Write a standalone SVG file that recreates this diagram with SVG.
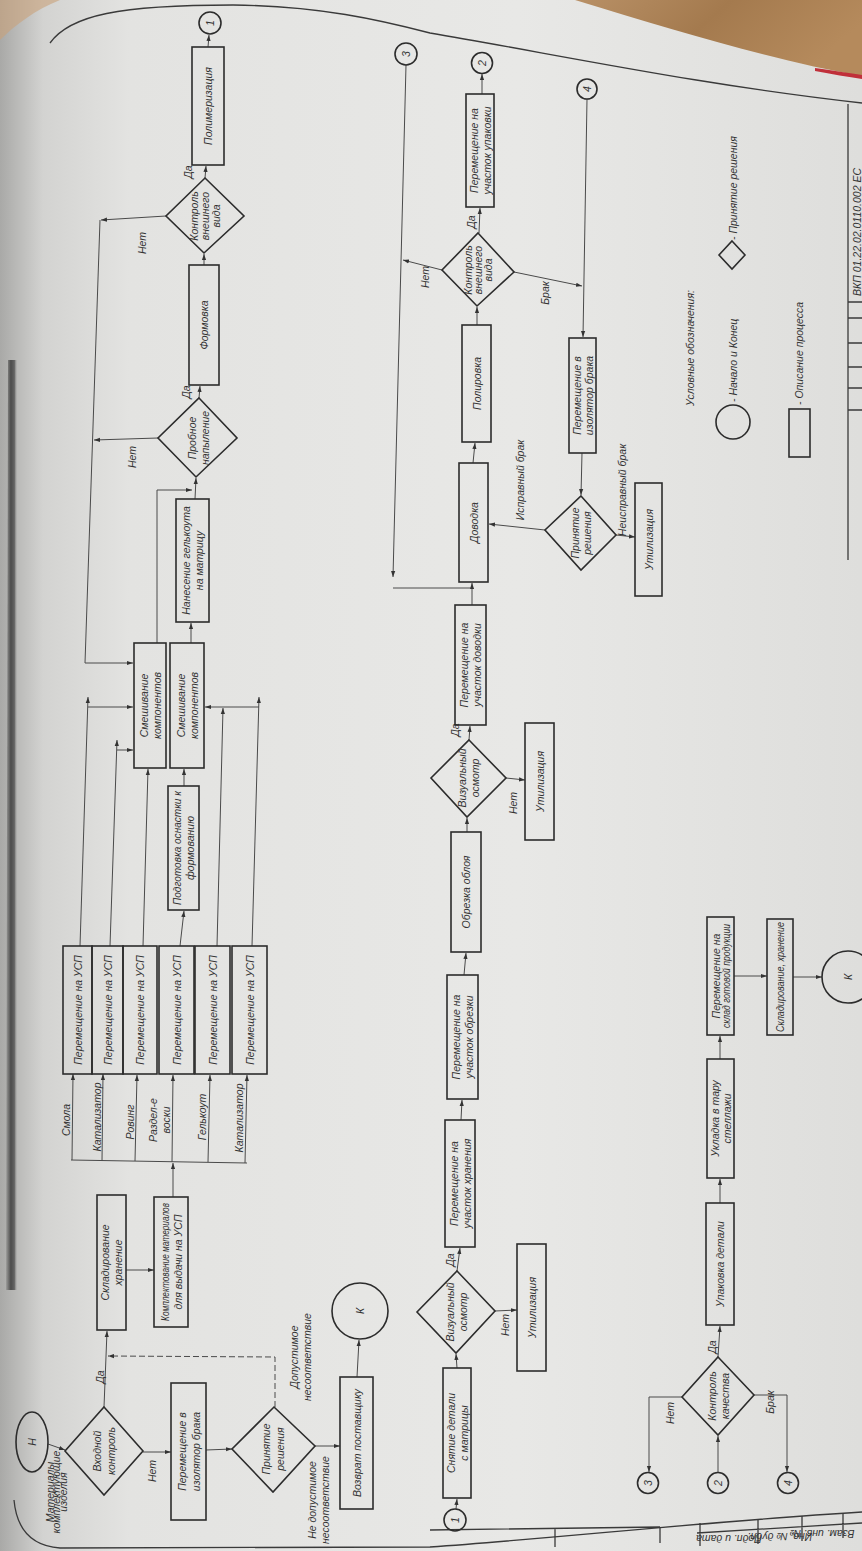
<svg xmlns="http://www.w3.org/2000/svg" width="862" height="1551" viewBox="0 0 862 1551">
<defs>
<linearGradient id="paper" x1="0" y1="0" x2="1" y2="0">
<stop offset="0" stop-color="#a9a9a7"/>
<stop offset="0.05" stop-color="#d3d3d1"/>
<stop offset="0.15" stop-color="#e3e3e1"/>
<stop offset="0.6" stop-color="#e8e8e6"/>
<stop offset="1" stop-color="#dededc"/>
</linearGradient>
<linearGradient id="bind" x1="0" y1="0" x2="1" y2="0">
<stop offset="0" stop-color="#9a9a98"/>
<stop offset="0.4" stop-color="#3a3a3a"/>
<stop offset="0.7" stop-color="#555"/>
<stop offset="1" stop-color="#c8c8c6" stop-opacity="0"/>
</linearGradient>
<linearGradient id="wood" x1="0" y1="0" x2="1" y2="0.3">
<stop offset="0" stop-color="#b89066"/>
<stop offset="0.5" stop-color="#a47a4e"/>
<stop offset="1" stop-color="#b58a5c"/>
</linearGradient>
<marker id="ah" viewBox="0 0 10 10" refX="10" refY="5" markerWidth="6" markerHeight="6" orient="auto" markerUnits="userSpaceOnUse">
<path d="M0,1.5 L10,5 L0,8.5 z" fill="#333"/>
</marker>
<style>
.bx{fill:none;stroke:#2c2c2c;stroke-width:1.6}
.ln{fill:none;stroke:#4a4a4a;stroke-width:1}
.ar{marker-end:url(#ah)}
.dash{stroke-dasharray:6 3}
.fr{fill:none;stroke:#3a3a3a;stroke-width:1.3}
.t{font-family:"Liberation Sans Narrow","Liberation Sans",Arial,sans-serif;font-style:italic;fill:#333;text-anchor:middle;dominant-baseline:central;font-size:10.5px}
.s{text-anchor:start}
</style>
</defs>

<!-- photo background -->
<rect x="0" y="0" width="862" height="1551" fill="url(#paper)"/>
<path d="M575,0 L862,0 L862,76 C780,62 680,32 575,0 Z" fill="url(#wood)"/>
<path d="M815,68 C835,71 850,73 862,75 L862,79 C848,77 832,74 815,71 Z" fill="#c0303a"/>
<path d="M0,0 L60,0 C35,10 15,25 0,40 Z" fill="#c9a27a" opacity="0.6"/>
<path d="M8,360 L18,360 L17,1290 L6,1290 Z" fill="url(#bind)" opacity="0.85"/>

<!-- sheet frame -->
<g id="frame">
<path class="fr" d="M50,43 C70,15 120,5 233,5 C320,6 380,20 430,33 C560,55 700,85 862,103"/>
<path class="fr" d="M14,1500 Q18,1545 60,1548 L430,1547 C560,1538 700,1522 862,1512"/>
<path class="fr" d="M430,1530 L660,1527 M555,1529 L555,1547 M660,1527 L660,1543 M697,1533 L862,1523 M700,1523 L700,1546 M758,1519 L758,1544 M802,1516 L802,1541 M843,1513 L843,1538"/>
<path class="fr" d="M848,104 L848,560 M848,302 L862,302 M848,318 L862,318 M848,343 L862,343 M848,367 L862,367 M848,388 L862,388 M848,410 L862,410"/>
<text class="t s" transform="translate(857,296) rotate(-90)" font-size="15">ВКП 01.22.02.0110.002 ЕС</text>
<text class="t" transform="translate(729,1539) rotate(180)" font-size="5">Подп. и дата</text>
<text class="t" transform="translate(780,1537) rotate(180)" font-size="5">Инв. № дубл.</text>
<text class="t" transform="translate(822,1534) rotate(180)" font-size="5">Взам. инв. №</text>
</g>

<!-- connectors -->
<g id="connectors">
<path class="ln ar" d="M48,1444 L65,1450"/>
<path class="ln ar" d="M104,1407 L107,1331"/>
<path class="ln ar" d="M143,1452 L171,1452"/>
<path class="ln ar" d="M206,1450 L232,1449"/>
<path class="ln ar dash" d="M275,1407 L275,1357 L108,1356"/>
<path class="ln ar" d="M315,1446 L340,1446"/>
<path class="ln ar" d="M357,1377 L359,1340"/>
<path class="ln ar" d="M126,1270 L154,1270"/>
<path class="ln ar" d="M173,1197 L173,1163"/>
<path class="ln" d="M71,1160 L247,1163"/>
<path class="ln ar" d="M72,1160 L73,1074"/>
<path class="ln ar" d="M102,1161 L103,1074"/>
<path class="ln ar" d="M135,1161 L137,1075"/>
<path class="ln ar" d="M172,1162 L173,1075"/>
<path class="ln ar" d="M208,1162 L210,1075"/>
<path class="ln ar" d="M245,1163 L247,1075"/>
<path class="ln ar" d="M80,946 L88,697"/>
<path class="ln ar" d="M88,707 L133,707"/>
<path class="ln ar" d="M110,946 L117,740"/>
<path class="ln ar" d="M117,750 L133,750"/>
<path class="ln ar" d="M143,946 L148,769"/>
<path class="ln ar" d="M180,946 L184,911"/>
<path class="ln ar" d="M184,786 L184,769"/>
<path class="ln ar" d="M217,946 L223,708"/>
<path class="ln ar" d="M259,707 L205,707"/>
<path class="ln ar" d="M252,946 L259,697"/>
<path class="ln ar" d="M157,643 L157,490 L192,490"/>
<path class="ln ar" d="M191,643 L191,623"/>
<path class="ln ar" d="M195,499 L196,478"/>
<path class="ln ar" d="M158,438 L94,440"/>
<path class="ln ar" d="M199,398 L200,386"/>
<path class="ln ar" d="M204,265 L204,254"/>
<path class="ln ar" d="M166,216 L101,220"/>
<path class="ln ar" d="M100,220 L85,663 L133,663"/>
<path class="ln ar" d="M205,178 L206,166"/>
<path class="ln ar" d="M208,47 L209,35"/>

<path class="ln ar" d="M456,1509 L457,1499"/>
<path class="ln ar" d="M457,1368 L456,1354"/>
<path class="ln ar" d="M457,1271 L460,1248"/>
<path class="ln ar" d="M495,1311 L517,1310"/>
<path class="ln ar" d="M461,1120 L462,1100"/>
<path class="ln ar" d="M464,975 L466,953"/>
<path class="ln ar" d="M467,832 L467,818"/>
<path class="ln ar" d="M469,740 L470,726"/>
<path class="ln ar" d="M506,778 L525,780"/>
<path class="ln ar" d="M472,605 L472,583"/>
<path class="ln ar" d="M473,463 L475,443"/>
<path class="ln ar" d="M477,325 L477,307"/>
<path class="ln ar" d="M479,233 L480,208"/>
<path class="ln ar" d="M482,94 L482,74"/>
<path class="ln ar" d="M442,270 L403,260"/>
<path class="ln ar" d="M406,65 L393,577"/>
<path class="ln" d="M393,588 L471,588"/>
<path class="ln ar" d="M514,272 L582,286"/>
<path class="ln ar" d="M587,99 L583,337"/>
<path class="ln ar" d="M582,453 L581,495"/>
<path class="ln ar" d="M545,530 L489,524"/>
<path class="ln ar" d="M616,535 L635,537"/>

<path class="ln ar" d="M718,1473 L718,1436"/>
<path class="ln ar" d="M682,1397 L649,1397 L649,1472"/>
<path class="ln ar" d="M754,1395 L787,1395 L787,1472"/>
<path class="ln ar" d="M718,1357 L720,1326"/>
<path class="ln ar" d="M720,1203 L720,1179"/>
<path class="ln ar" d="M720,1059 L720,1036"/>
<path class="ln ar" d="M734,976 L767,976"/>
<path class="ln ar" d="M793,977 L822,977"/>

<!-- connector labels -->
<text class="t" transform="translate(56,1492) rotate(-90)" font-size="5"><tspan x="0" y="-6.5">Материалы</tspan><tspan x="0" y="0">комплектующие</tspan><tspan x="0" y="6.5">изделия</tspan></text>
<text class="t" transform="translate(100,1377) rotate(-90)" font-size="10">Да</text>
<text class="t" transform="translate(152,1471) rotate(-90)" font-size="10">Нет</text>
<text class="t" transform="translate(300,1357) rotate(-90)" font-size="10"><tspan x="0" y="-6.5">Допустимое</tspan><tspan x="0" y="6.5">несоответствие</tspan></text>
<text class="t" transform="translate(318,1500) rotate(-90)" font-size="10"><tspan x="0" y="-6.5">Не допустимое</tspan><tspan x="0" y="6.5">несоответствие</tspan></text>
<text class="t" transform="translate(66,1120) rotate(-90)" font-size="9.5">Смола</text>
<text class="t" transform="translate(97,1117) rotate(-90)" font-size="9.5">Катализатор</text>
<text class="t" transform="translate(130,1122) rotate(-90)" font-size="9.5">Ровинг</text>
<text class="t" transform="translate(159,1120) rotate(-90)" font-size="9.5"><tspan x="0" y="-6.5">Раздел-е</tspan><tspan x="0" y="6.5">воски</tspan></text>
<text class="t" transform="translate(202,1117) rotate(-90)" font-size="9.5">Гелькоут</text>
<text class="t" transform="translate(239,1118) rotate(-90)" font-size="9.5">Катализатор</text>
<text class="t" transform="translate(132,457) rotate(-90)" font-size="9">Нет</text>
<text class="t" transform="translate(186,392) rotate(-90)" font-size="9">Да</text>
<text class="t" transform="translate(142,243) rotate(-90)" font-size="9">Нет</text>
<text class="t" transform="translate(188,172) rotate(-90)" font-size="9">Да</text>

<text class="t" transform="translate(450,1260) rotate(-90)" font-size="9">Да</text>
<text class="t" transform="translate(505,1325) rotate(-90)" font-size="9.5">Нет</text>
<text class="t" transform="translate(455,730) rotate(-90)" font-size="9">Да</text>
<text class="t" transform="translate(513,803) rotate(-90)" font-size="9">Нет</text>
<text class="t" transform="translate(471,222) rotate(-90)" font-size="8">Да</text>
<text class="t" transform="translate(425,277) rotate(-90)" font-size="8.5">Нет</text>
<text class="t" transform="translate(545,293) rotate(-90)" font-size="8.5">Брак</text>
<text class="t" transform="translate(520,480) rotate(-90)" font-size="8.5">Исправный брак</text>
<text class="t" transform="translate(622,490) rotate(-90)" font-size="8.5">Неисправный брак</text>

<text class="t" transform="translate(670,1413) rotate(-90)" font-size="9.5">Нет</text>
<text class="t" transform="translate(770,1402) rotate(-90)" font-size="9.5">Брак</text>
<text class="t" transform="translate(712,1347) rotate(-90)" font-size="9">Да</text>
</g>

<!-- Row 1 nodes -->
<g id="start"><ellipse class="bx" cx="32" cy="1442" rx="16" ry="30"/><text class="t" transform="translate(32,1442) rotate(-90)" font-size="17">Н</text></g>
<g id="d-vhod"><polygon class="bx" points="104,1407 143,1451 104,1495 65,1451"/><text class="t" transform="translate(104,1451) rotate(-90)" font-size="11"><tspan x="0" y="-7">Входной</tspan><tspan x="0" y="7">контроль</tspan></text></g>
<g id="iso1"><rect class="bx" x="171" y="1383" width="35" height="137"/><text class="t" transform="translate(188.5,1451.5) rotate(-90)" font-size="11.5"><tspan x="0" y="-7">Перемещение в</tspan><tspan x="0" y="7">изолятор брака</tspan></text></g>
<g id="d-prin1"><polygon class="bx" points="274,1407 315,1446 273,1492 232,1449"/><text class="t" transform="translate(273,1449) rotate(-90)" font-size="11"><tspan x="0" y="-7">Принятие</tspan><tspan x="0" y="7">решения</tspan></text></g>
<g id="vozvrat"><rect class="bx" x="340" y="1377" width="33" height="132"/><text class="t" transform="translate(356.5,1443) rotate(-90)" font-size="11">Возврат поставщику</text></g>
<g id="end1"><circle class="bx" cx="360" cy="1311" r="28"/><text class="t" transform="translate(360,1311) rotate(-90)" font-size="20">К</text></g>
<g id="sklad1"><rect class="bx" x="97" y="1195" width="29" height="135"/><text class="t" transform="translate(111.5,1262.5) rotate(-90)" font-size="10.5"><tspan x="0" y="-6.5">Складирование</tspan><tspan x="0" y="6.5">хранение</tspan></text></g>
<g id="kompl"><rect class="bx" x="154" y="1197" width="34" height="130"/><text class="t" transform="translate(171,1262) rotate(-90)" font-size="8"><tspan x="0" y="-6.5" textLength="118" lengthAdjust="spacingAndGlyphs">Комплектование материалов</tspan><tspan x="0" y="6.5">для выдачи на УСП</tspan></text></g>
<g id="usp1"><rect class="bx" x="63" y="946" width="29" height="128"/><text class="t" transform="translate(77.5,1010) rotate(-90)">Перемещение на УСП</text></g>
<g id="usp2"><rect class="bx" x="92" y="946" width="31" height="128"/><text class="t" transform="translate(107.5,1010) rotate(-90)">Перемещение на УСП</text></g>
<g id="usp3"><rect class="bx" x="123" y="946" width="34" height="128"/><text class="t" transform="translate(140,1010) rotate(-90)">Перемещение на УСП</text></g>
<g id="usp4"><rect class="bx" x="159" y="946" width="35" height="128"/><text class="t" transform="translate(176.5,1010) rotate(-90)">Перемещение на УСП</text></g>
<g id="usp5"><rect class="bx" x="195" y="946" width="35" height="128"/><text class="t" transform="translate(212.5,1010) rotate(-90)">Перемещение на УСП</text></g>
<g id="usp6"><rect class="bx" x="232" y="946" width="35" height="128"/><text class="t" transform="translate(249.5,1010) rotate(-90)">Перемещение на УСП</text></g>
<g id="podgot"><rect class="bx" x="168" y="786" width="31" height="124"/><text class="t" transform="translate(183.5,848) rotate(-90)" font-size="10"><tspan x="0" y="-6.5" textLength="114" lengthAdjust="spacingAndGlyphs">Подготовка оснастки к</tspan><tspan x="0" y="6.5">формованию</tspan></text></g>
<g id="mixA"><rect class="bx" x="134" y="643" width="32" height="125"/><text class="t" transform="translate(150,705.5) rotate(-90)"><tspan x="0" y="-6.5">Смешивание</tspan><tspan x="0" y="6.5">компонентов</tspan></text></g>
<g id="mixB"><rect class="bx" x="170" y="643" width="34" height="125"/><text class="t" transform="translate(187,705.5) rotate(-90)"><tspan x="0" y="-6.5">Смешивание</tspan><tspan x="0" y="6.5">компонентов</tspan></text></g>
<g id="nanes"><rect class="bx" x="176" y="499" width="33" height="123"/><text class="t" transform="translate(192.5,560.5) rotate(-90)"><tspan x="0" y="-6.5">Нанесение гелькоута</tspan><tspan x="0" y="6.5">на матрицу</tspan></text></g>
<g id="d-probn"><polygon class="bx" points="199,398 237,438 196,477 158,438"/><text class="t" transform="translate(198,438) rotate(-90)" font-size="10"><tspan x="0" y="-6.5">Пробное</tspan><tspan x="0" y="6.5">напыление</tspan></text></g>
<g id="formovka"><rect class="bx" x="189" y="265" width="30" height="120"/><text class="t" transform="translate(204,325) rotate(-90)">Формовка</text></g>
<g id="d-kontr1"><polygon class="bx" points="205,178 244,216 204,253 166,216"/><text class="t" transform="translate(205,216) rotate(-90)" font-size="9.5"><tspan x="0" y="-11">Контроль</tspan><tspan x="0" y="0">внешнего</tspan><tspan x="0" y="11">вида</tspan></text></g>
<g id="polim"><rect class="bx" x="192" y="47" width="32" height="118"/><text class="t" transform="translate(208,106) rotate(-90)">Полимеризация</text></g>
<g id="c1a"><circle class="bx" cx="210" cy="23" r="11"/><text class="t" transform="translate(210,23) rotate(-90)" font-size="13">1</text></g>

<!-- Row 2 nodes -->
<g id="c1b"><circle class="bx" cx="455" cy="1520" r="11"/><text class="t" transform="translate(455,1520) rotate(-90)" font-size="13">1</text></g>
<g id="snyatie"><rect class="bx" x="443" y="1368" width="28" height="130"/><text class="t" transform="translate(457,1433) rotate(-90)" font-size="11"><tspan x="0" y="-6.5">Снятие детали</tspan><tspan x="0" y="6.5">с матрицы</tspan></text></g>
<g id="d-viz1"><polygon class="bx" points="457,1271 495,1311 456,1353 417,1312"/><text class="t" transform="translate(456,1312) rotate(-90)" font-size="10"><tspan x="0" y="-6.5">Визуальный</tspan><tspan x="0" y="6.5">осмотр</tspan></text></g>
<g id="hran"><rect class="bx" x="445" y="1120" width="30" height="127"/><text class="t" transform="translate(460,1183.5) rotate(-90)" font-size="11"><tspan x="0" y="-6.5">Перемещение на</tspan><tspan x="0" y="6.5">участок хранения</tspan></text></g>
<g id="util1"><rect class="bx" x="517" y="1244" width="29" height="127"/><text class="t" transform="translate(531.5,1307.5) rotate(-90)" font-size="11">Утилизация</text></g>
<g id="obrezki"><rect class="bx" x="447" y="975" width="31" height="124"/><text class="t" transform="translate(462.5,1037) rotate(-90)" font-size="11"><tspan x="0" y="-6.5">Перемещение на</tspan><tspan x="0" y="6.5">участок обрезки</tspan></text></g>
<g id="obrezka"><rect class="bx" x="451" y="832" width="30" height="120"/><text class="t" transform="translate(466,892) rotate(-90)" font-size="11">Обрезка облоя</text></g>
<g id="d-viz2"><polygon class="bx" points="469,740 506,778 467,817 431,778"/><text class="t" transform="translate(468,778) rotate(-90)" font-size="10"><tspan x="0" y="-6.5">Визуальный</tspan><tspan x="0" y="6.5">осмотр</tspan></text></g>
<g id="util2"><rect class="bx" x="525" y="723" width="29" height="117"/><text class="t" transform="translate(539.5,781.5) rotate(-90)" font-size="10.5">Утилизация</text></g>
<g id="dovodki"><rect class="bx" x="455" y="605" width="31" height="120"/><text class="t" transform="translate(470.5,665) rotate(-90)" font-size="10.5"><tspan x="0" y="-6.5">Перемещение на</tspan><tspan x="0" y="6.5">участок доводки</tspan></text></g>
<g id="dovodka"><rect class="bx" x="459" y="463" width="29" height="119"/><text class="t" transform="translate(473.5,522.5) rotate(-90)">Доводка</text></g>
<g id="polirovka"><rect class="bx" x="462" y="325" width="29" height="117"/><text class="t" transform="translate(476.5,383.5) rotate(-90)">Полировка</text></g>
<g id="d-kontr2"><polygon class="bx" points="478,233 514,272 477,306 442,270"/><text class="t" transform="translate(478,270) rotate(-90)" font-size="8.5"><tspan x="0" y="-10">Контроль</tspan><tspan x="0" y="0">внешнего</tspan><tspan x="0" y="10">вида</tspan></text></g>
<g id="upakovki"><rect class="bx" x="466" y="94" width="28" height="113"/><text class="t" transform="translate(480,150.5) rotate(-90)" font-size="10"><tspan x="0" y="-6.5">Перемещение на</tspan><tspan x="0" y="6.5">участок упаковки</tspan></text></g>
<g id="c2a"><circle class="bx" cx="482" cy="63" r="10.5"/><text class="t" transform="translate(482,63) rotate(-90)" font-size="13">2</text></g>
<g id="c3a"><circle class="bx" cx="406" cy="54" r="11"/><text class="t" transform="translate(406,54) rotate(-90)" font-size="13">3</text></g>
<g id="c4a"><circle class="bx" cx="587" cy="89" r="10"/><text class="t" transform="translate(587,89) rotate(-90)" font-size="12">4</text></g>
<g id="iso2"><rect class="bx" x="569" y="338" width="27" height="115"/><text class="t" transform="translate(582.5,395.5) rotate(-90)" font-size="9.5"><tspan x="0" y="-6">Перемещение в</tspan><tspan x="0" y="6">изолятор брака</tspan></text></g>
<g id="d-prin2"><polygon class="bx" points="581,496 616,535 581,570 545,530"/><text class="t" transform="translate(581,533) rotate(-90)" font-size="9"><tspan x="0" y="-6">Принятие</tspan><tspan x="0" y="6">решения</tspan></text></g>
<g id="util3"><rect class="bx" x="635" y="483" width="27" height="113"/><text class="t" transform="translate(648.5,539.5) rotate(-90)" font-size="9.5">Утилизация</text></g>

<!-- Row 3 nodes -->
<g id="c3b"><circle class="bx" cx="648" cy="1483" r="10.5"/><text class="t" transform="translate(648,1483) rotate(-90)" font-size="13">3</text></g>
<g id="c2b"><circle class="bx" cx="718" cy="1483" r="10.5"/><text class="t" transform="translate(718,1483) rotate(-90)" font-size="13">2</text></g>
<g id="c4b"><circle class="bx" cx="788" cy="1483" r="10.5"/><text class="t" transform="translate(788,1483) rotate(-90)" font-size="13">4</text></g>
<g id="d-kach"><polygon class="bx" points="718,1357 754,1395 718,1435 682,1397"/><text class="t" transform="translate(718,1396) rotate(-90)" font-size="10"><tspan x="0" y="-6.5">Контроль</tspan><tspan x="0" y="6.5">качества</tspan></text></g>
<g id="upakovka"><rect class="bx" x="706" y="1203" width="28" height="122"/><text class="t" transform="translate(720,1264) rotate(-90)" font-size="10.5">Упаковка детали</text></g>
<g id="ukladka"><rect class="bx" x="707" y="1059" width="27" height="119"/><text class="t" transform="translate(720.5,1118.5) rotate(-90)" font-size="10"><tspan x="0" y="-6">Укладка в тару</tspan><tspan x="0" y="6">стеллажи</tspan></text></g>
<g id="sklad-gp"><rect class="bx" x="707" y="917" width="27" height="118"/><text class="t" transform="translate(720.5,976) rotate(-90)" font-size="7.5"><tspan x="0" y="-5">Перемещение на</tspan><tspan x="0" y="5" textLength="104" lengthAdjust="spacingAndGlyphs">склад готовой продукции</tspan></text></g>
<g id="sklad2"><rect class="bx" x="767" y="919" width="26" height="116"/><text class="t" transform="translate(780,977) rotate(-90)" font-size="9" textLength="110" lengthAdjust="spacingAndGlyphs">Складирование, хранение</text></g>
<g id="end2"><circle class="bx" cx="848" cy="977" r="26"/><text class="t" transform="translate(848,977) rotate(-90)" font-size="20">К</text></g>

<!-- legend -->
<g id="legend">
<text class="t" transform="translate(690,348) rotate(-90)" font-size="12.5">Условные обозначения:</text>
<circle class="bx" cx="733" cy="422" r="17"/>
<text class="t s" transform="translate(733,402) rotate(-90)" font-size="12.5">- Начало и Конец</text>
<polygon class="bx" points="732,241 745,255 732,269 719,255"/>
<text class="t s" transform="translate(733,240) rotate(-90)" font-size="12.5">- Принятие решения</text>
<rect class="bx" x="789" y="409" width="21" height="48"/>
<text class="t s" transform="translate(799,405) rotate(-90)" font-size="12.5">- Описание процесса</text>
</g>
</svg>
